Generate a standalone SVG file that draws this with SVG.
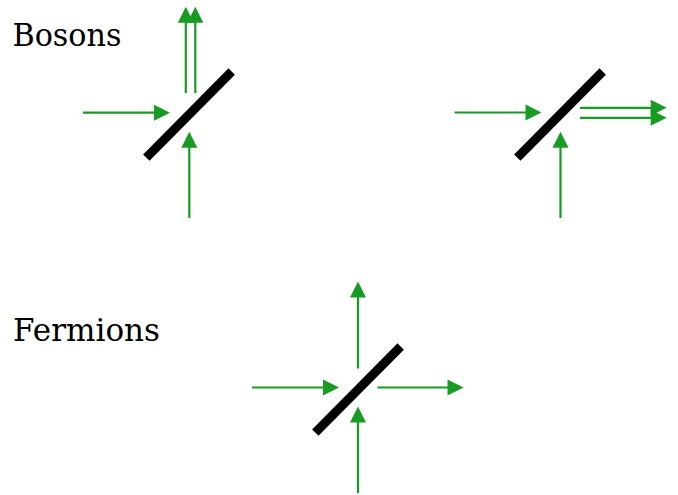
<svg xmlns="http://www.w3.org/2000/svg" width="678" height="495" viewBox="0 0 678 495">
<defs>
<style>
.lbl{font-family:'DejaVu Serif',serif;font-size:31px;fill:#000}
.ray{stroke:#179b22;stroke-width:2.2;fill:none;marker-end:url(#ah)}
.mirror{stroke:#000;stroke-width:9;stroke-linecap:butt}
</style>
<marker id="ah" markerUnits="userSpaceOnUse" markerWidth="16" markerHeight="16" viewBox="0 0 16 16" refX="12" refY="8" orient="auto" overflow="visible">
<path d="M0,0 L16,8 L0,16 z" fill="#179b22"/>
</marker>
</defs>
<rect width="678" height="495" fill="#fff"/>
<text class="lbl" x="12.5" y="46" textLength="109" lengthAdjust="spacingAndGlyphs">Bosons</text>
<text class="lbl" x="13" y="341" textLength="147" lengthAdjust="spacingAndGlyphs">Fermions</text>
<g id="bs1">
<line class="mirror" x1="146.3" y1="157.7" x2="231.7" y2="71.5"/>
</g>
<g id="bs2">
<line class="mirror" x1="517.3" y1="157.7" x2="602.7" y2="71.5"/>
</g>
<g id="bs3">
<line class="mirror" x1="315.3" y1="432.7" x2="400.7" y2="346.5"/>
</g>
<g id="connectors">
<line class="ray" x1="83" y1="112.7" x2="166" y2="112.7"/>
<line class="ray" x1="189.3" y1="218" x2="189.3" y2="135.7"/>
<line class="ray" x1="185.8" y1="93" x2="185.8" y2="10.7"/>
<line class="ray" x1="195.3" y1="93" x2="195.3" y2="10.7"/>
<line class="ray" x1="454.5" y1="112.5" x2="537.5" y2="112.5"/>
<line class="ray" x1="560.5" y1="218" x2="560.5" y2="135.7"/>
<line class="ray" x1="580" y1="107.8" x2="662.7" y2="107.8"/>
<line class="ray" x1="580" y1="117.8" x2="662.7" y2="117.8"/>
<line class="ray" x1="252" y1="387.5" x2="335" y2="387.5"/>
<line class="ray" x1="358" y1="493" x2="358" y2="410.5"/>
<line class="ray" x1="358" y1="368.5" x2="358" y2="285.5"/>
<line class="ray" x1="377.5" y1="387.5" x2="459.5" y2="387.5"/>
</g>
</svg>
